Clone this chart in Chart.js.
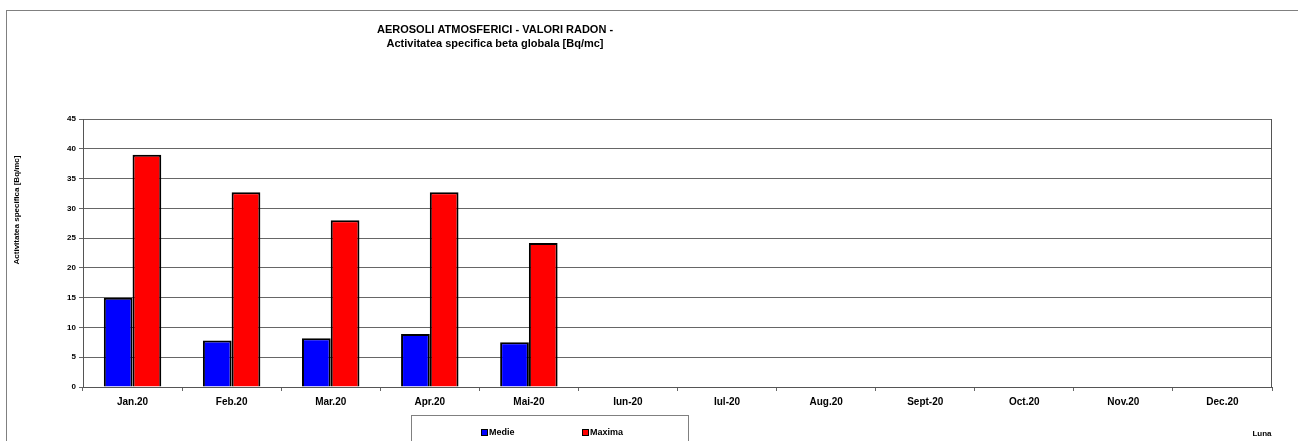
<!DOCTYPE html>
<html>
<head>
<meta charset="utf-8">
<script src="https://cdn.jsdelivr.net/npm/chart.js@4"></script>
<style>
html, body { margin: 0; padding: 0; background: #fff; }
#wrap { width: 1298px; height: 441px; position: relative; }
</style>
</head>
<body>
<div id="wrap"><canvas id="chart1" width="1298" height="441"></canvas></div>
<script>
var months = ['Jan.20', 'Feb.20', 'Mar.20', 'Apr.20', 'Mai-20', 'Iun-20', 'Iul-20', 'Aug.20', 'Sept-20', 'Oct.20', 'Nov.20', 'Dec.20'];
var medie = [15, 7.8, 8.2, 8.9, 7.5, null, null, null, null, null, null, null];
var maxima = [39, 32.7, 28, 32.7, 24.2, null, null, null, null, null, null, null];
var yTicks = [0, 5, 10, 15, 20, 25, 30, 35, 40, 45];

var FONT = '"Liberation Sans", Arial, sans-serif';

// extra drawing: frame, title, axis titles, legend box
var decorations = {
    id: 'decorations',
    afterDraw: function (chart) {
        var c = chart.ctx;
        c.save();
        c.strokeStyle = '#808080';
        c.lineWidth = 1;
        c.strokeRect(6.5, 10.5, 1400, 600);

        c.fillStyle = '#000';
        c.textAlign = 'center';
        c.textBaseline = 'middle';
        c.font = 'bold 11px ' + FONT;
        c.fillText('AEROSOLI ATMOSFERICI - VALORI RADON -', 495, 30);
        c.fillText('Activitatea specifica beta globala [Bq/mc]', 495, 44);

        c.font = 'bold 8px ' + FONT;
        c.fillText('Luna', 1262, 434);

        c.save();
        c.translate(17, 210);
        c.rotate(-Math.PI / 2);
        c.fillText('Activitatea specifica [Bq/mc]', 0, 0);
        c.restore();

        // legend
        c.strokeStyle = '#808080';
        c.strokeRect(411.5, 415.5, 277, 60);
        c.textAlign = 'left';
        c.font = 'bold 9px ' + FONT;
        var xs = [481, 582];
        chart.data.datasets.forEach(function (ds, i) {
            c.fillStyle = ds.backgroundColor;
            c.fillRect(xs[i], 429, 7, 7);
            c.strokeStyle = '#000';
            c.strokeRect(xs[i] + 0.5, 429.5, 6, 6);
            c.fillStyle = '#000';
            c.fillText(ds.label, xs[i] + 8, 433);
        });
        c.restore();
    }
};

var ctx = document.getElementById('chart1').getContext('2d');
var chart = new Chart(ctx, {
    type: 'bar',
    data: {
        labels: months,
        datasets: [{
            label: 'Medie',
            backgroundColor: '#0000FF',
            borderColor: '#000',
            borderWidth: 2,
            data: medie
        }, {
            label: 'Maxima',
            backgroundColor: '#FF0000',
            borderColor: '#000',
            borderWidth: 2,
            data: maxima
        }]
    },
    options: {
        responsive: false,
        animation: false,
        layout: { padding: { left: 0, right: 26, top: 119, bottom: 0 } },
        datasets: { bar: { categoryPercentage: 0.58, barPercentage: 1 } },
        plugins: {
            legend: { display: false },
            title: { display: false },
            tooltip: { enabled: false }
        },
        scales: {
            x: {
                offset: true,
                grid: { display: true, offset: true, drawOnChartArea: false, color: '#666', tickLength: 4 },
                border: { color: '#555', width: 1 },
                ticks: { color: '#000', font: { family: FONT, size: 10, weight: 'bold' }, padding: 5, maxRotation: 0, autoSkip: false },
                afterFit: function (s) { s.height = 54; }
            },
            y: {
                min: 0,
                max: 45,
                afterBuildTicks: function (s) { s.ticks = yTicks.map(function (v) { return { value: v }; }); },
                grid: { color: '#666', tickLength: 4 },
                border: { color: '#555', width: 1 },
                ticks: { color: '#000', font: { family: FONT, size: 8, weight: 'bold' }, padding: 3 },
                afterFit: function (s) { s.width = 83; }
            }
        }
    },
    plugins: [decorations, {
        id: 'plotFrame',
        afterDatasetsDraw: function (chart) {
            var a = chart.chartArea, c = chart.ctx;
            c.save();
            c.strokeStyle = '#555';
            c.lineWidth = 1;
            c.beginPath();
            c.moveTo(a.right - 0.5, a.top);
            c.lineTo(a.right - 0.5, a.bottom);
            c.stroke();
            c.restore();
        }
    }]
});
</script>
</body>
</html>
